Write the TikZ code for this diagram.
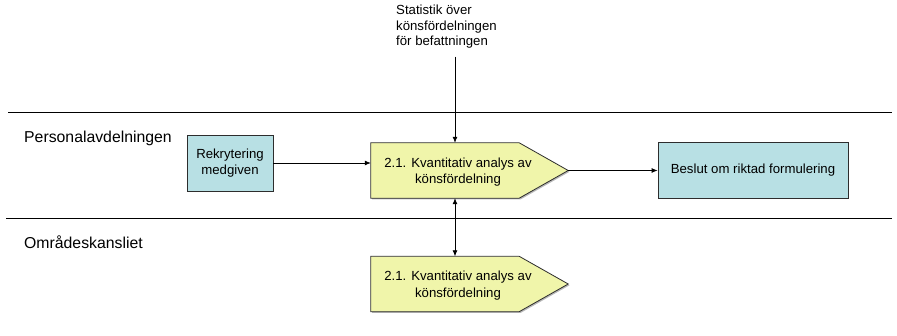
\documentclass[tikz,border=0pt]{standalone}
\usepackage{fontspec}
\setmainfont{Liberation Sans}
\usetikzlibrary{arrows.meta,shadows}
\definecolor{procyel}{RGB}{240,245,170}
\definecolor{evcyan}{RGB}{184,224,228}
\definecolor{edgegray}{RGB}{45,45,45}
\begin{document}
\begin{tikzpicture}[x=1pt,y=-1pt,
  lane/.style={draw=black,line width=0.8pt},
  lanelabel/.style={font=\fontsize{15.8}{18}\selectfont,anchor=west,inner sep=0pt},
  txt/.style={font=\fontsize{13.2}{16.5}\selectfont,align=center,inner sep=0pt},
  boxshadow/.style={general shadow={fill=black!28,shadow xshift=1.3pt,shadow yshift=-1.3pt}},
  evbox/.style={draw=edgegray,fill=evcyan,line width=0.8pt,boxshadow,
    txt,minimum height=56pt},
  body/.style={inner sep=0pt,minimum width=148pt,minimum height=55pt},
  procshape/.style={draw=edgegray,fill=procyel,line width=0.8pt,boxshadow},
  arr/.style={-{Latex[length=6pt,width=5pt]},line width=0.8pt},
  darr/.style={{Latex[length=6pt,width=5pt]}-{Latex[length=6pt,width=5pt]},line width=0.8pt}]

% page frame
\useasboundingbox (0,0) rectangle (897,336);

% swimlane separators
\draw[lane] (8,112) -- (892,112);
\draw[lane] (6,218) -- (892,218);

% lane titles
\node[lanelabel] (laneP) at (24,138) {Personalavdelningen};
\node[lanelabel] (laneO) at (24,242) {Områdeskansliet};

% input document
\node[txt,align=left,anchor=north west,font=\fontsize{13.2}{15.5}\selectfont]
  (stat) at (396,5) {Statistik över\\könsfördelningen\\för befattningen};

% process bodies (the pointed end is added below)
\node[body] (p1) at (445,170.5) {};
\node[body] (p2) at (445,284) {};
\coordinate (p1tip) at ([xshift=49pt]p1.east);
\coordinate (p2tip) at ([xshift=49pt]p2.east);

\path[procshape] (p1.north west) -- (p1.north east) -- (p1tip)
  -- (p1.south east) -- (p1.south west) -- cycle;
\path[procshape] (p2.north west) -- (p2.north east) -- (p2tip)
  -- (p2.south east) -- (p2.south west) -- cycle;

\node[txt] (p1text) at (458,172) {2.1. Kvantitativ analys av\\könsfördelning};
\node[txt] (p2text) at (458,285.5) {2.1. Kvantitativ analys av\\könsfördelning};

% events
\node[evbox,minimum width=86pt] (rek) at (230,163) {Rekrytering\\medgiven};
\node[evbox,minimum width=190pt] (beslut) at (753,170) {Beslut om riktad formulering};

% flows
\coordinate (xflow) at (455,0);
\draw[arr] (stat.south -| xflow) ++(0,8) -- (p1.north -| xflow);
\draw[arr] (rek.east) -- (rek.east -| p1.west);
\draw[arr] (p1tip) -- (p1tip -| beslut.west);
\draw[darr] (p1.south -| xflow) -- (p2.north -| xflow);
\end{tikzpicture}
\end{document}
